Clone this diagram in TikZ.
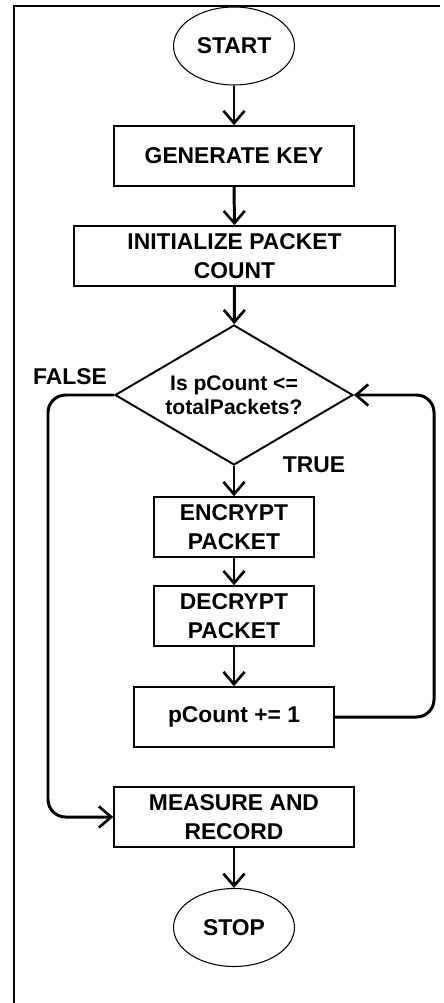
\documentclass[tikz,border=0pt]{standalone}
\usepackage{fontspec}
\setmainfont{Liberation Sans}
\usetikzlibrary{arrows.meta,positioning,shapes.geometric,calc}

\begin{document}
\begin{tikzpicture}[x=0.02cm,y=-0.02cm,every node/.style={font=\fontsize{13}{16.4}\selectfont\bfseries},
      box/.style={draw,line width=0.9pt,minimum height=1.2cm,align=center,inner sep=2pt},
      term/.style={draw,ellipse,line width=0.6pt,minimum width=2.42cm,minimum height=1.56cm,inner sep=0pt},
      decide/.style={draw,diamond,line width=1.1pt,minimum width=4.76cm,minimum height=2.8cm,aspect=1.7,inner sep=0pt,align=center,
        font=\fontsize{12}{13.6}\selectfont\bfseries},
      flow/.style={line width=1.7pt,-{Straight Barb[length=7pt,width=12pt,line width=1.5pt]}}]
    \useasboundingbox (0,0) rectangle (443,1003);
    % frame
    \draw[line width=1.2pt] (14,1003) -- (14,6) -- (440,6);
    % main column
    \node[term] (start) at (234,46) {START};
    \node[box,minimum width=4.8cm] (genkey) at (234,156) {GENERATE KEY};
    \node[box,minimum width=6.42cm] (initpc) at (234.5,256) {INITIALIZE PACKET\\COUNT};
    \node[decide] (check) at (234,395) {Is pCount <=\\totalPackets?};
    \node[box,minimum width=3.2cm] (encr) at (234,527) {ENCRYPT\\PACKET};
    \node[box,minimum width=3.2cm] (decr) at (234,616) {DECRYPT\\PACKET};
    \node[box,minimum width=4cm] (incr) at (234,717) {pCount += 1};
    \node[box,minimum width=4.8cm] (measure) at (234,817) {MEASURE AND\\RECORD};
    \node[term] (stop) at (234,927.5) {STOP};
    \foreach \a/\b in {start/genkey,genkey/initpc,initpc/check,check/encr,encr/decr,decr/incr,measure/stop}{\draw[flow](\a)--(\b);}
    % branch labels
    \node (lfalse) at (70,377) {FALSE};
    \node (ltrue) at (314,465) {TRUE};
    % loop back and exit
    \draw[flow,rounded corners=10] (incr.east) -- (434,717) -- (434,395) -- (check.east);
    \draw[flow,rounded corners=10] (check.west) -- (48,395) -- (48,817) -- (measure.west);
  \end{tikzpicture}
\end{document}
